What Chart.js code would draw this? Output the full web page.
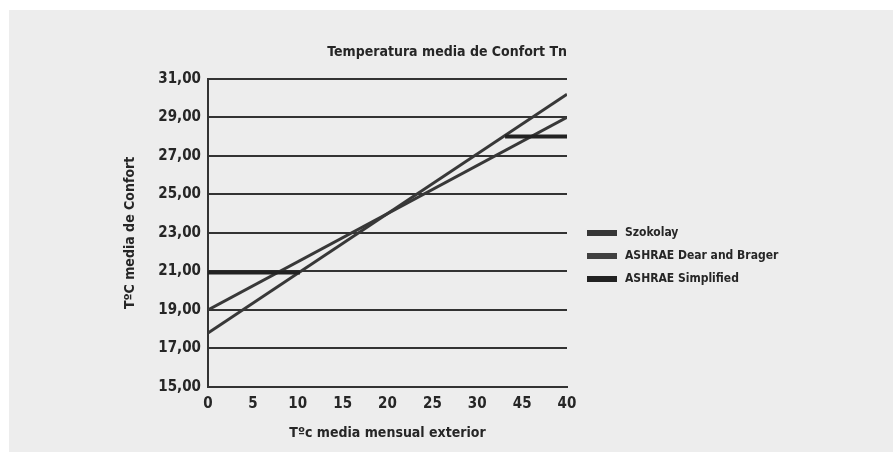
<!DOCTYPE html>
<html>
<head>
<meta charset="utf-8">
<script src="https://cdn.jsdelivr.net/npm/chart.js@4"></script>
<style>
  html, body { margin: 0; padding: 0; background: #fff; }
  #wrap { width: 894px; height: 452px; }
</style>
</head>
<body>
<div id="wrap"><canvas id="confort" width="894" height="452"></canvas></div>
<script>
'use strict';

// x 축 눈금 라벨 (원본 표기 그대로)
const tickLabels = ['0', '5', '10', '15', '20', '25', '30', '45', '40'];

// Szokolay
const szokolayX = [0, 40];
const szokolayY = [17.8, 30.2];

// ASHRAE Dear and Brager
const dearBragerX = [0, 40];
const dearBragerY = [19.0, 29.0];

// ASHRAE Simplified (중간 구간은 비움)
const simplifiedX = [0, 10.25, 20, 33.1, 40];
const simplifiedY = [20.95, 20.95, null, 28.0, 28.0];

const FONT = "'DejaVu Sans Condensed', 'DejaVu Sans', sans-serif";
const INK = '#262626';

function toPoints(xs, ys) {
  return xs.map((x, i) => ({ x, y: ys[i] }));
}

// 회색 패널 배경
const panelBg = {
  id: 'panelBg',
  beforeDraw(chart) {
    const { ctx, width, height } = chart;
    ctx.save();
    ctx.fillStyle = '#fff';
    ctx.fillRect(0, 0, width, height);
    ctx.fillStyle = '#ededed';
    ctx.fillRect(9, 10, width - 10, height - 10);
    ctx.restore();
  },
};

// 오른쪽 범례 (데이터셋 색/라벨 사용)
const sideLegend = {
  id: 'sideLegend',
  afterDraw(chart) {
    const { ctx } = chart;
    ctx.save();
    ctx.font = 'bold 12px ' + FONT;
    ctx.textBaseline = 'middle';
    chart.data.datasets.forEach((ds, i) => {
      const y = 233 + i * 23;
      ctx.fillStyle = ds.legendColor || ds.borderColor;
      ctx.fillRect(587, y - 3, 30, 6);
      ctx.fillStyle = INK;
      ctx.fillText(ds.label, 625, y);
    });
    ctx.restore();
  },
};

const datasets = [
  {
    label: 'Szokolay',
    data: toPoints(szokolayX, szokolayY),
    borderColor: '#383838',
    legendColor: '#363636',
    borderWidth: 3,
    order: 2,
  },
  {
    label: 'ASHRAE Dear and Brager',
    data: toPoints(dearBragerX, dearBragerY),
    borderColor: '#383838',
    legendColor: '#404040',
    borderWidth: 3,
    order: 3,
  },
  {
    label: 'ASHRAE Simplified',
    data: toPoints(simplifiedX, simplifiedY),
    borderColor: '#222',
    legendColor: '#222',
    borderWidth: 4,
    spanGaps: false,
    order: 1,
  },
].map(d => ({ ...d, pointRadius: 0, tension: 0, fill: false }));

new Chart(document.getElementById('confort'), {
  type: 'line',
  data: { datasets },
  plugins: [panelBg, sideLegend],
  options: {
    responsive: false,
    animation: false,
    layout: { padding: { left: 0, right: 327, top: 0, bottom: 0 } },
    plugins: {
      legend: { display: false },
      tooltip: { enabled: false },
      title: {
        display: true,
        text: 'Temperatura media de Confort Tn',
        align: 'end',
        color: INK,
        font: { family: FONT, size: 14, weight: 'bold' },
        padding: { top: 44, bottom: 18 },
      },
    },
    scales: {
      x: {
        type: 'linear',
        min: 0,
        max: 40,
        afterFit(s) { s.height = 65; },
        grid: { display: false, drawTicks: false },
        border: { display: true, color: '#333', width: 2 },
        ticks: {
          stepSize: 5,
          padding: 8,
          color: INK,
          font: { family: FONT, size: 15, weight: 'bold' },
          callback: v => tickLabels[Math.round(v / 5)],
        },
        title: {
          display: true,
          text: 'T\u00bac media mensual exterior',
          color: INK,
          font: { family: FONT, size: 14, weight: 'bold' },
          padding: { top: 0, bottom: 10.6 },
        },
      },
      y: {
        min: 15,
        max: 31,
        afterFit(s) { s.width = 208; },
        grid: { color: '#333', lineWidth: 2, drawTicks: false },
        border: { display: true, color: '#333', width: 2 },
        ticks: {
          stepSize: 2,
          padding: 7,
          color: INK,
          font: { family: FONT, size: 15, weight: 'bold' },
          callback: v => v.toFixed(2).replace('.', ','),
        },
        title: {
          display: true,
          text: 'T\u00baC media de Confort',
          color: INK,
          font: { family: FONT, size: 14, weight: 'bold' },
          padding: { top: 121.6, bottom: 0 },
        },
      },
    },
  },
});
</script>
</body>
</html>
